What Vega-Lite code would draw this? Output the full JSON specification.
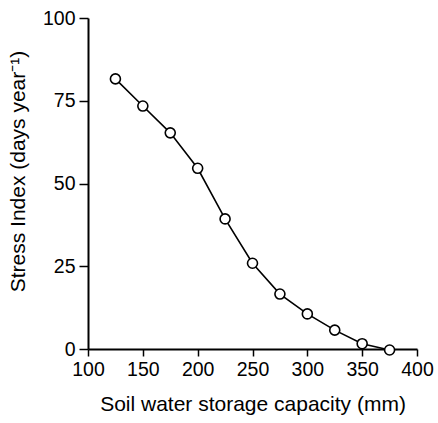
{
  "$schema": "https://vega.github.io/schema/vega-lite/v6.json",
  "width": 329,
  "height": 331,
  "autosize": "none",
  "padding": {"left": 88, "top": 18, "right": 21, "bottom": 74},
  "background": "white",
  "config": {
    "view": {"stroke": null},
    "font": "Liberation Sans",
    "axis": {
      "grid": false,
      "labelFlush": false,
      "labelOverlap": false,
      "domainColor": "black",
      "domainWidth": 2,
      "tickColor": "black",
      "tickWidth": 1.5,
      "labelColor": "black",
      "labelFont": "Liberation Sans",
      "labelFontSize": 19.5,
      "titleColor": "black",
      "titleFont": "Liberation Sans",
      "titleFontSize": 21,
      "titleFontWeight": "normal"
    }
  },
  "data": {
    "values": [
      {"capacity": 125, "stress": 81.6},
      {"capacity": 150, "stress": 73.4},
      {"capacity": 175, "stress": 65.3},
      {"capacity": 200, "stress": 54.6},
      {"capacity": 225, "stress": 39.3},
      {"capacity": 250, "stress": 25.9},
      {"capacity": 275, "stress": 16.6},
      {"capacity": 300, "stress": 10.6},
      {"capacity": 325, "stress": 5.7},
      {"capacity": 350, "stress": 1.6},
      {"capacity": 375, "stress": -0.3}
    ]
  },
  "encoding": {
    "x": {
      "field": "capacity",
      "type": "quantitative",
      "scale": {"domain": [100, 400], "nice": false, "zero": false},
      "axis": {"values": [100, 150, 200, 250, 300, 350, 400], "title": "Soil water storage capacity (mm)", "tickSize": 7, "labelPadding": 4, "titlePadding": 15}
    },
    "y": {
      "field": "stress",
      "type": "quantitative",
      "scale": {"domain": [0, 100], "nice": false, "clamp": false},
      "axis": {"values": [0, 25, 50, 75, 100], "title": "Stress Index (days year⁻¹)", "tickSize": 9, "labelPadding": 4, "titlePadding": 14, "titleY": 153}
    }
  },
  "layer": [
    {"mark": {"type": "line", "color": "black", "strokeWidth": 1.6}},
    {"mark": {"type": "point", "shape": "circle", "filled": true, "fill": "white", "stroke": "black", "strokeWidth": 1.6, "size": 100, "opacity": 1}}
  ]
}
